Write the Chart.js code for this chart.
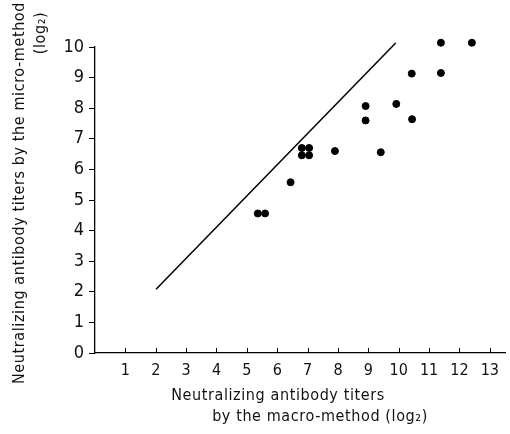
<!DOCTYPE html>
<html>
<head>
<meta charset="utf-8">
<script src="https://cdn.jsdelivr.net/npm/chart.js@4"></script>
<style>
  body { margin: 0; background: #fff; }
  #wrap { width: 510px; height: 434px; }
</style>
</head>
<body>
<div id="wrap"><canvas id="chart"></canvas></div>
<script>
// values
const macroTiters = [5.36, 5.6, 6.44, 6.81, 7.05, 6.81, 7.05, 7.9, 8.91, 8.91, 9.41, 9.92, 10.43, 10.44, 11.39, 11.39, 12.41];
const microTiters = [4.56, 4.56, 5.58, 6.7, 6.7, 6.46, 6.46, 6.6, 8.07, 7.6, 6.56, 8.14, 9.13, 7.64, 10.14, 9.15, 10.14];
const lineX = [2.01, 9.9];
const lineY = [2.08, 10.13];
const xTicks = [1, 2, 3, 4, 5, 6, 7, 8, 9, 10, 11, 12, 13];
const yTicks = [0, 1, 2, 3, 4, 5, 6, 7, 8, 9, 10];

const FONT = "'Liberation Sans Narrow', 'DejaVu Sans Condensed', 'Liberation Sans', sans-serif";

const points = macroTiters.map((x, i) => ({ x: x, y: microTiters[i] }));
const linePts = lineX.map((x, i) => ({ x: x, y: lineY[i] }));

// x ticks point up into the plot, titles drawn by hand
const extras = {
    id: 'extras',
    afterDraw(chart) {
        const ctx = chart.ctx;
        const xs = chart.scales.x;
        const bottom = chart.chartArea.bottom;
        ctx.save();
        ctx.strokeStyle = '#000';
        ctx.lineWidth = 1;
        xTicks.forEach(t => {
            const px = Math.round(xs.getPixelForValue(t)) + 0.5;
            ctx.beginPath();
            ctx.moveTo(px, bottom);
            ctx.lineTo(px, bottom - 5);
            ctx.stroke();
        });

        ctx.fillStyle = '#111';
        ctx.font = '16px ' + FONT;
        ctx.letterSpacing = '0.6px';
        ctx.textAlign = 'center';
        ctx.textBaseline = 'alphabetic';
        ctx.fillText('Neutralizing antibody titers', 278, 400);
        ctx.fillText('by the macro-method (log\u2082)', 320, 421);

        ctx.translate(24, 193);
        ctx.rotate(-Math.PI / 2);
        ctx.fillText('Neutralizing antibody titers by the micro-method', 0, 0);
        ctx.restore();

        ctx.save();
        ctx.fillStyle = '#111';
        ctx.font = '16px ' + FONT;
        ctx.letterSpacing = '0.6px';
        ctx.textAlign = 'center';
        ctx.translate(45, 33);
        ctx.rotate(-Math.PI / 2);
        ctx.fillText('(log\u2082)', 0, 0);
        ctx.restore();
    }
};

new Chart(document.getElementById('chart'), {
    type: 'scatter',
    data: {
        datasets: [
            {
                data: points,
                backgroundColor: '#000',
                borderColor: '#000',
                pointRadius: 3.5,
                clip: false
            },
            {
                type: 'line',
                data: linePts,
                borderColor: '#000',
                borderWidth: 1.5,
                pointRadius: 0,
                fill: false,
                clip: false
            }
        ]
    },
    options: {
        responsive: true,
        maintainAspectRatio: false,
        animation: false,
        layout: { padding: { top: 47, right: 1, left: 0, bottom: 0 } },
        plugins: { legend: { display: false }, tooltip: { enabled: false } },
        scales: {
            x: {
                type: 'linear',
                min: 0,
                max: 13.5,
                afterBuildTicks: s => { s.ticks = xTicks.map(v => ({ value: v })); },
                afterFit: s => { s.height = 81; },
                grid: { display: false, drawTicks: false },
                border: { display: true, color: '#000', width: 1.3 },
                ticks: {
                    padding: 8,
                    color: '#111',
                    font: { family: FONT, size: 16 },
                    maxRotation: 0
                }
            },
            y: {
                type: 'linear',
                min: 0,
                max: 10,
                afterBuildTicks: s => { s.ticks = yTicks.map(v => ({ value: v })); },
                afterFit: s => { s.width = 95; },
                grid: { drawOnChartArea: false, drawTicks: true, tickLength: 6, color: '#000' },
                border: { display: true, color: '#000', width: 1.3 },
                ticks: {
                    padding: 5,
                    color: '#111',
                    font: { family: FONT, size: 18 }
                }
            }
        }
    },
    plugins: [extras]
});
</script>
</body>
</html>
